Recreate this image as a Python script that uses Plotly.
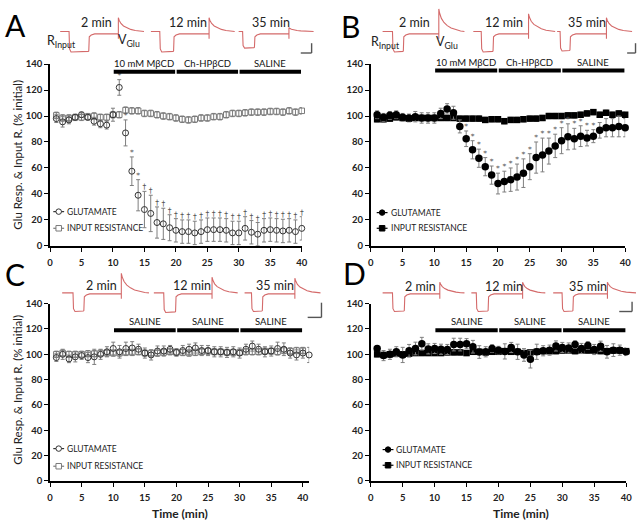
import plotly.graph_objects as go

W, H = 643, 529
FONT = "Lato, 'Open Sans', sans-serif"

# ---------------- data ----------------
time_40 = list(range(1, 41))
time_41 = list(range(1, 42))

# Panel A (open symbols)
glu_A = [98, 95.5, 97, 99, 101, 99, 96, 94, 93, 101, 122, 87, 57.5, 39, 28, 25, 18, 17, 14, 12,
         11, 11, 10, 11, 12.5, 12.5, 12.5, 12, 10, 10, 13.5, 10.5, 9, 12, 12.5, 12, 11.5, 12, 11, 13.5]
glu_A_err = [3, 4, 3, 2, 2, 2, 3, 3, 3, 5, 6, 10, 11, 12, 14, 14, 12, 12, 10, 9,
             9, 9, 9, 9, 9, 9, 9, 9, 9, 9, 9, 9, 9, 9, 9, 9, 9, 9, 9, 9]
ir_A = [100.5, 98.5, 98.5, 99, 99, 99.5, 100, 99, 99, 101, 101, 104.5, 104, 104, 102, 102, 101, 100, 99.5, 98.5,
        97.5, 97, 97.5, 98.5, 98.5, 99.5, 99.5, 101, 102, 102, 102.5, 103, 103, 103, 103.5, 103.5, 103, 104, 103, 104]
ir_A_err = [2.5] * 40
sig_A = ["", "", "", "", "", "", "", "", "", "", "*", "*", "*", "*"] + ["†"] * 26

# Panel B (filled symbols)
glu_B = [101, 99, 100.5, 101, 99, 98.5, 99.5, 98.5, 98.5, 98.5, 102, 105.5, 102.5, 92, 82.5, 74, 67.5, 61, 54.5, 48,
         49.5, 51, 53, 56, 61, 68, 70, 73, 77, 81, 84, 82.5, 84.5, 83, 84.5, 89, 91, 91, 92, 91]
glu_B_err = [3, 3, 3, 3, 3, 3, 4, 4, 4, 4, 4, 4, 5, 5, 6, 7, 7, 7, 7, 8,
             8, 9, 10, 11, 10, 12, 13, 10, 9, 10, 10, 8, 8, 6, 5, 6, 7, 7, 8, 7]
ir_B = [97.5, 97.5, 98, 99, 98.5, 98, 98.5, 98.5, 98.5, 98.5, 98.5, 98.5, 98.5, 98, 98, 98, 98, 97, 97.5, 97.5,
        96, 97, 97, 97.5, 98, 98, 98.5, 100, 100, 100, 100.5, 100.5, 101, 102, 103, 101, 102.5, 101, 102, 101]
ir_B_err = [2] * 40
sig_B = [""] * 14 + ["*"] * 21 + [""] * 5

# Panel C (open symbols, saline)
glu_C = [97.4, 100, 96.4, 98, 99, 97.4, 98, 100, 102, 104.6, 102, 104.6, 105, 104, 101, 99.5, 102.6, 102.6, 104, 101.5,
         103, 104, 105, 103, 103, 102, 102, 101.5, 102, 101, 104, 106.5, 104, 102, 102.6, 104.6, 104, 101, 99.5, 101, 99.5]
glu_C_err = [3, 4, 3, 4, 3, 4, 6, 4, 4, 5, 5, 5, 5, 4, 4, 4, 4, 4, 3, 3,
             4, 4, 4, 4, 4, 4, 4, 4, 4, 4, 4, 4, 4, 4, 4, 5, 5, 4, 4, 4, 6]
ir_C = [100, 101, 100, 100, 100, 100.5, 100.5, 101, 101, 101, 101, 101.5, 101.5, 102, 101, 101, 101, 101.5, 102, 101.5,
        101.5, 101, 101.5, 102, 102.5, 102, 102, 101.5, 101.5, 101.5, 102, 102, 102, 102.5, 102.5, 102, 103, 102.5, 103, 103]
ir_C_err = [2.5] * 40

# Panel D (filled symbols, saline)
glu_D = [104.6, 99, 100, 102, 99.5, 102.8, 104.6, 108.4, 104.3, 104.6, 104, 103.8, 107.7, 107.7, 108.4, 106, 101.8, 102, 104.6, 103.3,
         102.3, 105.4, 102, 99.5, 96.2, 102, 102.8, 103.3, 106.6, 105.4, 105, 107.7, 104.6, 107, 103.8, 106.4, 102, 103.3, 103.3, 102]
glu_D_err = [2, 4, 4, 4, 6, 5, 5, 5, 4, 4, 4, 4, 5, 5, 4, 5, 5, 4, 3, 3,
             6, 4, 6, 5, 7, 6, 4, 4, 4, 4, 4, 3, 4, 3, 4, 4, 5, 5, 4, 3]
ir_D = [100, 99.5, 100, 100.5, 100, 100.5, 101, 101, 101, 101, 101, 101.5, 101.5, 101.5, 101, 102, 102, 101.5, 102, 102,
        102.5, 102, 102, 101, 101.5, 102, 102.5, 102.5, 102.5, 103, 103, 102.5, 103, 103, 103, 102.5, 102.5, 103, 103, 102.5]
ir_D_err = [2] * 40

treat_periods = [(10, 20), (20, 30), (30, 40)]
treat_labels_AB = ["10 mM MβCD", "Ch-HPβCD", "SALINE"]
treat_labels_CD = ["SALINE", "SALINE", "SALINE"]
inset_times = ["2 min", "12 min", "35 min"]
x_ticks = [0, 5, 10, 15, 20, 25, 30, 35, 40]
y_ticks = [0, 20, 40, 60, 80, 100, 120, 140]
legend_names = ["GLUTAMATE", "INPUT RESISTANCE"]

# ---------------- layout helpers (pixel geometry) ----------------
def fx(p):
    return p / W

def fy(p):
    return 1 - p / H

panels = {
    "A": dict(xa="x", ya="y", xdom=(47.7, 303), ydom=(245, 59.3), xr=[0, 40], bar_y=134),
    "B": dict(xa="x2", ya="y2", xdom=(373, 631), ydom=(245, 59.3), xr=[0, 40], bar_y=135),
    "C": dict(xa="x3", ya="y3", xdom=(47.7, 310.5), ydom=(485, 304), xr=[0, 41], bar_y=119),
    "D": dict(xa="x4", ya="y4", xdom=(373, 632), ydom=(485, 304), xr=[0, 40], bar_y=119),
}

fig = go.Figure()

open_style = dict(
    glu=dict(symbol="circle-open", size=6, color="#333333", line=dict(width=1, color="#333333")),
    ir=dict(symbol="square-open", size=5.5, color="#7a7a7a", line=dict(width=1, color="#7a7a7a")),
)
filled_style = dict(
    glu=dict(symbol="circle", size=7.5, color="#000000"),
    ir=dict(symbol="square", size=6.5, color="#000000"),
)

def add_series(panel, t_glu, glu, glu_err, t_ir, ir, ir_err, style, sig=None):
    p = panels[panel]
    eb = dict(type="data", visible=True, color="#7f7f7f", thickness=1, width=2)
    fig.add_trace(go.Scatter(x=t_ir, y=ir, mode="markers", marker=style["ir"],
                             error_y=dict(array=ir_err, **eb), xaxis=p["xa"], yaxis=p["ya"],
                             showlegend=False, cliponaxis=False))
    fig.add_trace(go.Scatter(x=t_glu, y=glu, mode="markers", marker=style["glu"],
                             error_y=dict(array=glu_err, **eb), xaxis=p["xa"], yaxis=p["ya"],
                             showlegend=False, cliponaxis=False))
    if sig is not None:
        keep = [i for i, s in enumerate(sig) if s]
        xs = [t_glu[i] for i in keep]
        tops = [glu[i] + glu_err[i] for i in keep]
        txt = [sig[i] for i in keep]
        fig.add_trace(go.Scatter(x=xs, y=tops, mode="text", text=txt, textposition="top center",
                                 textfont=dict(family="'DejaVu Sans', sans-serif", size=7.5, color="#555555"),
                                 xaxis=p["xa"], yaxis=p["ya"], showlegend=False, cliponaxis=False))

add_series("A", time_40, glu_A, glu_A_err, time_40, ir_A, ir_A_err, open_style, sig_A)
add_series("B", time_40, glu_B, glu_B_err, time_40, ir_B, ir_B_err, filled_style, sig_B)
add_series("C", time_41, glu_C, glu_C_err, time_40, ir_C, ir_C_err, open_style)
add_series("D", time_40, glu_D, glu_D_err, time_40, ir_D, ir_D_err, filled_style)

# ---------------- axes ----------------
tickfont = dict(family=FONT, size=9.5, color="#222222", weight="bold")
axis_common = dict(showline=True, linecolor="#000000", linewidth=1.5, ticks="outside", ticklen=4,
                   tickwidth=1.3, tickcolor="#000000", showgrid=False, zeroline=False, tickfont=tickfont)
lay = {}
for key, p in panels.items():
    xn = "xaxis" + p["xa"][1:]
    yn = "yaxis" + p["ya"][1:]
    lay[xn] = dict(domain=[fx(p["xdom"][0]), fx(p["xdom"][1])], range=p["xr"], tickvals=x_ticks,
                   anchor=p["ya"], ticklabelstandoff=3, **axis_common)
    lay[yn] = dict(domain=[fy(p["ydom"][0]), fy(p["ydom"][1])], range=[0, 140], tickvals=y_ticks,
                   anchor=p["xa"], **axis_common)
# overlay pixel axis for insets / decorations
lay["xaxis5"] = dict(domain=[0, 1], range=[0, W], visible=False, fixedrange=True)
lay["yaxis5"] = dict(domain=[0, 1], range=[H, 0], visible=False, fixedrange=True, anchor="x5")

annotations = []
shapes = []

# treatment bars
for key, labels in (("A", treat_labels_AB), ("B", treat_labels_AB), ("C", treat_labels_CD), ("D", treat_labels_CD)):
    p = panels[key]
    for (t0, t1), lab in zip(treat_periods, labels):
        shapes.append(dict(type="line", xref=p["xa"], yref=p["ya"], x0=t0 + 0.12, x1=t1 - 0.12,
                           y0=p["bar_y"], y1=p["bar_y"], line=dict(color="#000000", width=4)))
        annotations.append(dict(xref=p["xa"], yref=p["ya"], x=(t0 + t1) / 2, y=p["bar_y"], text=lab,
                                showarrow=False, yanchor="bottom", yshift=1,
                                font=dict(family=FONT, size=9.5, color="#111111")))

# legends (pixel positions)
legend_pos = {"A": (51, 210, 227, "open"), "B": (379, 211, 227, "filled"),
              "C": (51, 452, 470, "open"), "D": (385, 453, 469, "filled")}
for key, (lx, y1, y2, kind) in legend_pos.items():
    for name, yy, sym in ((legend_names[0], y1, "c"), (legend_names[1], y2, "s")):
        if kind == "open":
            col = "#333333" if sym == "c" else "#7a7a7a"
            fill = "#ffffff"
        else:
            col = "#000000"
            fill = "#000000"
        shapes.append(dict(type="line", xref="x5", yref="y5", x0=lx, x1=lx + 11, y0=yy, y1=yy,
                           line=dict(color=col, width=1.2)))
        cx = lx + 5.5
        r = 2.8
        shapes.append(dict(type="circle" if sym == "c" else "rect", xref="x5", yref="y5",
                           x0=cx - r, x1=cx + r, y0=yy - r, y1=yy + r,
                           fillcolor=fill, line=dict(color=col, width=1)))
        annotations.append(dict(xref="x5", yref="y5", x=lx + 12, y=yy, text=name, showarrow=False,
                                xanchor="left", yanchor="middle",
                                font=dict(family=FONT, size=8.5, color="#222222")))

# axis titles
ytitle = "Glu Resp. &amp; Input R. (% initial)"
for yc in (152, 392):
    annotations.append(dict(xref="x5", yref="y5", x=15, y=yc, text=ytitle, textangle=-90, showarrow=False,
                            font=dict(family=FONT, size=11.5, color="#222222")))
for xc in (180, 525):
    annotations.append(dict(xref="x5", yref="y5", x=xc, y=518, text="Time (min)", showarrow=False,
                            font=dict(family=FONT, size=12, color="#222222", weight="bold")))

# panel letters
for lab, (x, y) in {"A": (13, 19), "B": (352, 20), "C": (12, 274), "D": (356, 273)}.items():
    annotations.append(dict(xref="x5", yref="y5", x=x, y=y, text=lab, showarrow=False,
                            font=dict(family=FONT, size=30, color="#000000")))

# ---------------- inset example traces ----------------
# per trace: start, step-down, step-up, glu-onset, end, step depth, glu peak, plateau offset
insets = {
    "A": dict(base=26, traces=[(58, 67, 87, 117, 143, 21, 14, 2.5), (150, 159, 173, 209, 235, 21, 14, 2.5),
                               (239, 243, 255, 290, 315, 17, 4, 2.5)],
              labels=[(95, 17), (188, 17), (272, 17)], scale=(302, 313, 38, 48),
              rv=((59, 36), (128, 35))),
    "B": dict(base=26, traces=[(385, 395, 406, 442, 468, 21, 23, 2.5), (477, 485, 497, 533, 560, 21, 18, 2.5),
                               (562, 565, 575, 612, 638, 20, 14, 2.5)],
              labels=[(417, 17), (508, 17), (592, 17)], scale=(633, 641.5, 38, 48),
              rv=((388, 37), (450, 37))),
    "C": dict(base=293, traces=[(60, 71, 82, 120, 148, 19, 20, 1), (153, 163, 175, 212, 238, 20, 16, 1),
                                (245, 252, 263, 296, 322, 19, 15, 1)],
              labels=[(100, 285), (192, 285), (276, 285)], scale=(309, 323, 303, 318), rv=None),
    "D": dict(base=293, traces=[(385, 395, 407, 443, 468, 19, 11, 1), (475, 480, 492, 527, 550, 19, 11, 1),
                                (558, 567, 578, 613, 642, 19, 11, 1)],
              labels=[(423, 286), (508, 286), (593, 286)], scale=(625, 638, 302, 312), rv=None),
}
decay_pos = [0, 0.03, 0.1, 0.2, 0.33, 0.48, 0.66, 0.85, 1.0]
decay_lvl = [1, 0.82, 0.58, 0.4, 0.26, 0.15, 0.07, 0.02, 0]

for key, ins in insets.items():
    yb = ins["base"]
    for (xs, xd, xu, xg, xe, dep, spk, plat) in ins["traces"]:
        xx = [xs, xd, xd + 0.5, xd + 2, xu - 0.5, xu, xu + 0.5, xu + 2.5, xu + 6, xg, xg, xg]
        yy = [yb, yb, yb + dep * 0.85, yb + dep, yb + dep * 0.97, yb + dep * 0.95, yb + plat + 3,
              yb + plat + 1.2, yb + plat, yb + plat, yb + plat + 5, yb - spk]
        for fpos, flv in zip(decay_pos[1:], decay_lvl[1:]):
            xx.append(xg + fpos * (xe - xg))
            yy.append(yb - spk * flv)
        fig.add_trace(go.Scatter(x=xx, y=yy, mode="lines", line=dict(color="#d46a6a", width=1.1),
                                 xaxis="x5", yaxis="y5", showlegend=False, hoverinfo="skip"))
    for (lx, ly), lab in zip(ins["labels"], inset_times):
        annotations.append(dict(xref="x5", yref="y5", x=lx, y=ly, text=lab, showarrow=False,
                                font=dict(family=FONT, size=12.5, color="#222222")))
    sx0, sx1, sy0, sy1 = ins["scale"]
    shapes.append(dict(type="line", xref="x5", yref="y5", x0=sx1, x1=sx1, y0=sy0, y1=sy1,
                       line=dict(color="#555555", width=1.4)))
    shapes.append(dict(type="line", xref="x5", yref="y5", x0=sx0, x1=sx1, y0=sy1, y1=sy1,
                       line=dict(color="#555555", width=1.4)))
    if ins["rv"]:
        (rx, ry), (vx, vy) = ins["rv"]
        annotations.append(dict(xref="x5", yref="y5", x=rx, y=ry, text="R<sub>Input</sub>", showarrow=False,
                                font=dict(family=FONT, size=12.5, color="#222222")))
        annotations.append(dict(xref="x5", yref="y5", x=vx, y=vy, text="V<sub>Glu</sub>", showarrow=False,
                                font=dict(family=FONT, size=12.5, color="#222222")))

fig.update_layout(width=W, height=H, margin=dict(l=0, r=0, t=0, b=0),
                  paper_bgcolor="#ffffff", plot_bgcolor="rgba(0,0,0,0)",
                  showlegend=False, annotations=annotations, shapes=shapes,
                  font=dict(family=FONT), **lay)

fig.write_html("out.html", config={"displayModeBar": False},
               post_script="document.body.style.margin='0';document.body.style.overflow='hidden';")
